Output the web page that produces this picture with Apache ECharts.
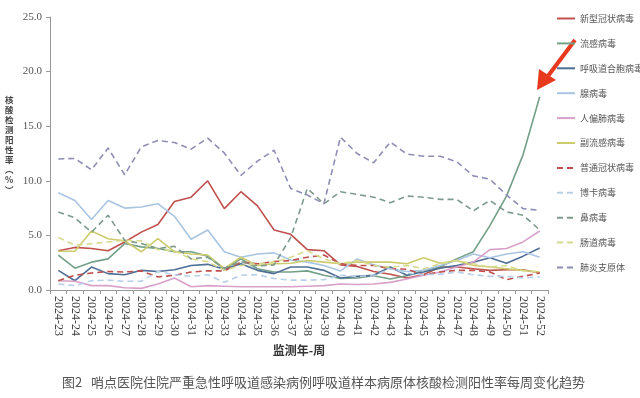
<!DOCTYPE html>
<html>
<head>
<meta charset="utf-8">
<script src="https://cdn.jsdelivr.net/npm/echarts@6/dist/echarts.min.js"></script>
<style>
  html, body { margin: 0; padding: 0; background: #fff; }
  #chart { width: 640px; height: 398px; }
</style>
</head>
<body>
<div id="chart"></div>
<script>
// categories: 监测年-周
const weeks = [
  '2024-23', '2024-24', '2024-25', '2024-26', '2024-27', '2024-28', '2024-29', '2024-30',
  '2024-31', '2024-32', '2024-33', '2024-34', '2024-35', '2024-36', '2024-37', '2024-38',
  '2024-39', '2024-40', '2024-41', '2024-42', '2024-43', '2024-44', '2024-45', '2024-46',
  '2024-47', '2024-48', '2024-49', '2024-50', '2024-51', '2024-52'
];
const yTicks = [0, 5, 10, 15, 20, 25];

// 阳性率 (%)
const covid = [3.6, 3.9, 3.8, 3.6, 4.4, 5.3, 6.0, 8.1, 8.5, 10.0, 7.45, 9.0, 7.7, 5.5, 5.1, 3.7, 3.6, 2.3, 2.15, 1.7, 1.45, 1.1, 1.4, 2.1, 2.1, 1.95, 1.8, 1.85, 1.85, 1.55];
const flu = [3.2, 2.0, 2.55, 2.85, 4.25, 3.95, 3.8, 3.5, 3.5, 3.1, 1.9, 2.85, 1.95, 1.65, 1.65, 1.75, 1.35, 1.05, 1.1, 1.3, 1.0, 1.3, 1.8, 2.1, 2.85, 3.5, 5.9, 8.6, 12.4, 17.7];
const rsv = [1.8, 0.85, 2.1, 1.5, 1.4, 1.8, 1.7, 1.85, 2.25, 2.35, 1.9, 2.4, 1.8, 1.5, 2.1, 2.1, 1.8, 1.1, 1.25, 1.35, 2.1, 1.35, 1.65, 2.0, 2.25, 2.55, 2.95, 2.45, 3.1, 3.85];
const adeno = [8.9, 8.2, 6.45, 8.2, 7.5, 7.6, 7.9, 6.75, 4.65, 5.5, 3.5, 3.0, 3.3, 3.4, 2.75, 2.55, 2.25, 1.75, 2.85, 2.3, 1.95, 1.7, 1.8, 2.25, 2.7, 3.3, 2.95, 3.3, 3.5, 3.0];
const hmpv = [0.85, 0.8, 0.4, 0.4, 0.2, 0.15, 0.55, 1.1, 0.3, 0.4, 0.35, 0.3, 0.3, 0.3, 0.3, 0.35, 0.4, 0.55, 0.5, 0.55, 0.7, 1.0, 1.35, 1.65, 2.1, 2.55, 3.7, 3.8, 4.4, 5.4];
const piv = [3.55, 3.55, 5.4, 4.7, 4.5, 3.5, 4.7, 3.5, 3.3, 3.2, 1.95, 3.0, 2.25, 2.4, 2.45, 2.7, 2.55, 2.4, 2.55, 2.55, 2.55, 2.4, 2.95, 2.45, 2.7, 2.25, 2.1, 1.95, 1.8, 1.65];
const hcov = [0.85, 1.35, 1.55, 1.7, 1.65, 1.75, 1.2, 1.35, 1.65, 1.75, 1.75, 2.55, 2.4, 2.6, 2.7, 3.0, 3.2, 2.4, 2.25, 2.25, 1.95, 1.9, 1.4, 1.65, 1.8, 1.8, 1.65, 0.95, 1.25, 1.55];
const boca = [0.55, 0.4, 0.85, 0.9, 0.8, 0.8, 1.7, 1.4, 1.25, 1.4, 0.7, 1.35, 1.4, 1.05, 0.9, 0.9, 0.95, 1.35, 1.25, 1.3, 1.95, 1.55, 1.4, 1.45, 1.65, 1.4, 1.25, 1.25, 1.1, 1.2];
const rhino = [7.15, 6.6, 5.3, 6.85, 4.55, 4.25, 3.8, 4.0, 2.85, 3.0, 2.0, 2.6, 2.2, 2.3, 4.8, 9.3, 7.9, 9.0, 8.75, 8.5, 8.0, 8.6, 8.5, 8.3, 8.3, 7.25, 8.2, 7.15, 6.85, 5.5];
const entero = [4.8, 4.1, 4.25, 4.4, 4.55, 4.5, 3.7, 3.6, 2.85, 2.6, 1.8, 2.25, 2.4, 2.55, 3.0, 3.6, 2.85, 2.4, 2.7, 2.25, 2.1, 2.25, 1.95, 2.4, 2.7, 2.4, 2.1, 2.25, 1.75, 1.65];
const myco = [12.0, 12.05, 11.0, 13.0, 10.55, 13.1, 13.7, 13.5, 12.9, 13.9, 12.55, 10.5, 11.8, 12.8, 9.3, 8.7, 7.9, 14.0, 12.5, 11.65, 13.55, 12.45, 12.25, 12.25, 11.75, 10.45, 10.15, 8.7, 7.45, 7.3];

const seriesDefs = [
    { name: '新型冠状病毒', data: covid, color: '#c0504d', type: 'solid' },
    { name: '流感病毒', data: flu, color: '#74a088', type: 'solid' },
    { name: '呼吸道合胞病毒', data: rsv, color: '#4e6f95', type: 'solid' },
    { name: '腺病毒', data: adeno, color: '#a9c5e2', type: 'solid' },
    { name: '人偏肺病毒', data: hmpv, color: '#d9a1c9', type: 'solid' },
    { name: '副流感病毒', data: piv, color: '#cccb6e', type: 'solid' },
    { name: '普通冠状病毒', data: hcov, color: '#c0504d', type: 'dashed' },
    { name: '博卡病毒', data: boca, color: '#b8cfe8', type: 'dashed' },
    { name: '鼻病毒', data: rhino, color: '#7d9a8c', type: 'dashed' },
    { name: '肠道病毒', data: entero, color: '#d8da8e', type: 'dashed' },
    { name: '肺炎支原体', data: myco, color: '#8e8db6', type: 'dashed' },
];

const chart = echarts.init(document.getElementById('chart'));

const option = {
    animation: false,
    grid: {
        left: 50,
        right: 92,
        top: 17,
        bottom: 108,
    },
    legend: {
        orient: 'vertical',
        left: 551,
        top: 9,
        itemWidth: 18,
        itemHeight: 10,
        itemGap: 15.9,
        itemStyle: { opacity: 0 },
        textStyle: {
            fontFamily: 'Noto Sans CJK SC',
            fontSize: 9,
            color: '#555',
        },
        data: seriesDefs.map(s => s.name),
    },
    xAxis: {
        type: 'category',
        data: weeks,
        boundaryGap: true,
        name: '监测年-周',
        nameLocation: 'middle',
        nameGap: 54,
        nameTextStyle: {
            fontFamily: 'Noto Sans CJK SC',
            fontWeight: 'bold',
            fontSize: 12,
            color: '#333',
        },
        axisLine: { lineStyle: { color: '#999' } },
        axisTick: { show: true, length: 4, lineStyle: { color: '#999' } },
        axisLabel: {
            interval: 0,
            rotate: -90,
            margin: 6,
            fontFamily: 'Liberation Serif',
            fontSize: 12,
            color: '#444',
        },
        splitLine: { show: false },
    },
    yAxis: {
        type: 'value',
        min: yTicks[0],
        max: yTicks[yTicks.length - 1],
        interval: 5,
        axisLine: { show: true, lineStyle: { color: '#999' } },
        axisTick: { show: true, length: 4, lineStyle: { color: '#999' } },
        axisLabel: {
            margin: 8,
            fontFamily: 'Liberation Serif',
            fontSize: 11,
            color: '#555',
            formatter: v => v.toFixed(1),
        },
        splitLine: { show: false },
    },
    series: seriesDefs.map(s => ({
        name: s.name,
        type: 'line',
        data: s.data,
        symbol: 'none',
        color: s.color,
        lineStyle: {
            color: s.color,
            width: 1.6,
            type: s.type === 'dashed' ? [6, 4] : 'solid',
        },
    })),
    graphic: [
        {
            type: 'text',
            left: 5,
            top: 95,
            style: {
                text: '核\n酸\n检\n测\n阳\n性\n率\n︵\n%\n︶',
                fontFamily: 'Noto Sans CJK SC',
                fontSize: 8.5,
                lineHeight: 10,
                fontWeight: 'bold',
                fill: '#444',
            },
        },
        {
            type: 'text',
            left: 62,
            top: 376,
            style: {
                text: '图2   哨点医院住院严重急性呼吸道感染病例呼吸道样本病原体核酸检测阳性率每周变化趋势',
                fontFamily: 'Noto Sans CJK SC',
                fontSize: 13,
                fill: '#555',
            },
        },
        // 红色箭头
        {
            type: 'line',
            shape: { x1: 575, y1: 40, x2: 548, y2: 76 },
            style: { stroke: '#e8391f', lineWidth: 4 },
        },
        {
            type: 'polygon',
            shape: { points: [[537, 90], [539, 69], [556, 80]] },
            style: { fill: '#e8391f' },
        },
    ],
};

chart.setOption(option);
</script>
</body>
</html>
